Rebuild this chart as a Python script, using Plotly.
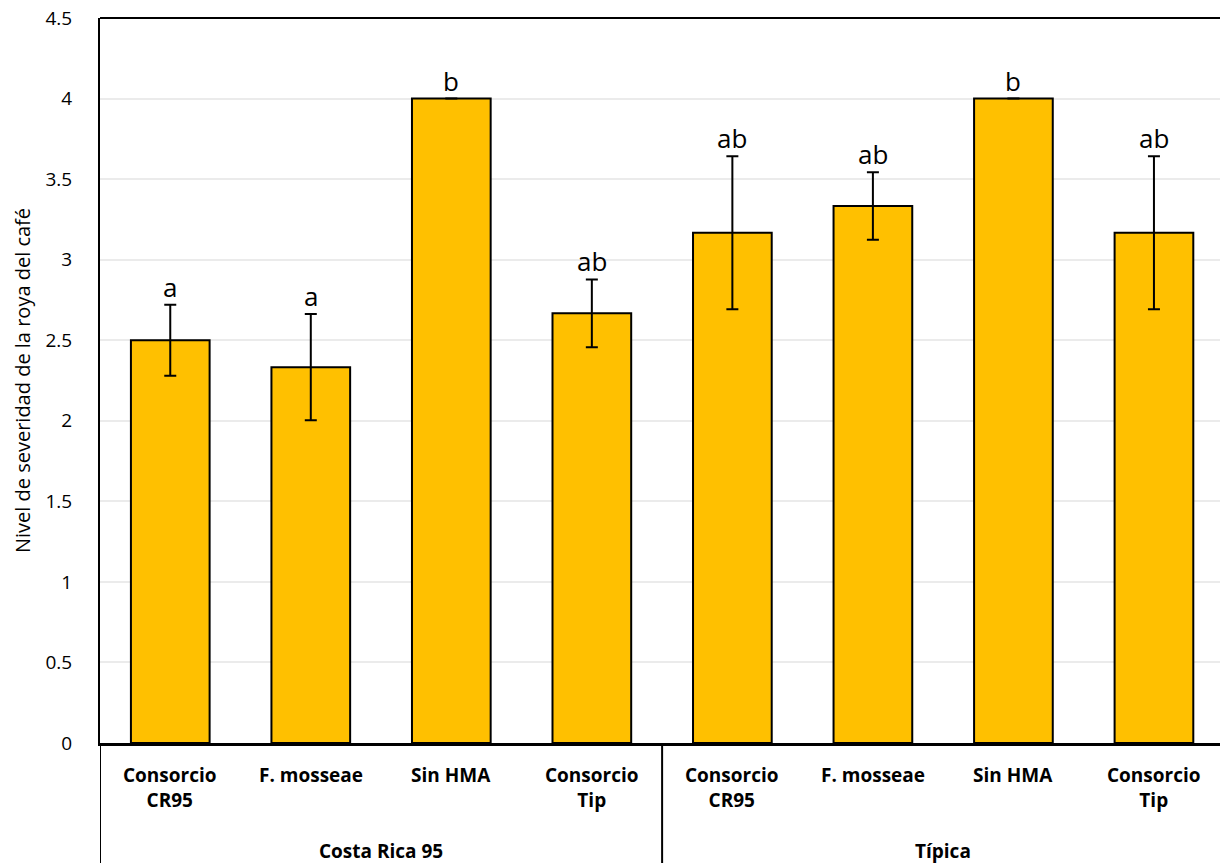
import plotly.graph_objects as go

treatments = ["Consorcio<br>CR95", "F. mosseae", "Sin HMA", "Consorcio<br>Tip",
              "Consorcio<br>CR95", "F. mosseae", "Sin HMA", "Consorcio<br>Tip"]
groups = ["Costa Rica 95", "Típica"]
group_sizes = [4, 4]
means = [2.5, 2.333, 4.0, 2.667, 3.167, 3.333, 4.0, 3.167]
errors = [0.22, 0.33, 0.0, 0.21, 0.475, 0.21, 0.0, 0.475]
letters = ["a", "a", "b", "ab", "ab", "ab", "b", "ab"]

FONT = "Open Sans"
xs = list(range(len(means)))

fig = go.Figure()
fig.add_trace(go.Bar(
    x=xs, y=means, width=0.56,
    marker=dict(color="#FFC000", line=dict(color="black", width=2)),
    error_y=dict(type="data", array=errors, visible=True, color="black", thickness=2, width=6),
    showlegend=False,
))

annotations = []
for i, (m, e, l) in enumerate(zip(means, errors, letters)):
    annotations.append(dict(x=i, y=m + e, xref="x", yref="y", text=l, showarrow=False,
                            yanchor="bottom", yshift=-2, font=dict(size=26, color="black", family=FONT)))
for i, t in enumerate(treatments):
    annotations.append(dict(x=i, y=0, xref="x", yref="paper", text="<b>" + t + "</b>", showarrow=False,
                            yanchor="top", yshift=-17, font=dict(size=19, color="black", family=FONT)))
start = 0
shapes = []
for g, n in zip(groups, group_sizes):
    center = start + (n - 1) / 2
    annotations.append(dict(x=center, y=0, xref="x", yref="paper", text="<b>" + g + "</b>",
                            showarrow=False, yanchor="top", yshift=-93,
                            font=dict(size=19, color="black", family=FONT)))
    start += n
for b in [-0.5, 3.5, 7.5]:
    shapes.append(dict(type="line", xref="x", yref="paper", x0=b, x1=b, y0=0, y1=-0.2,
                       line=dict(color="black", width=2)))

fig.update_layout(
    width=1220, height=863,
    margin=dict(l=100, r=0, t=18, b=120),
    plot_bgcolor="white", paper_bgcolor="white",
    font=dict(family=FONT, size=18, color="black"),
    xaxis=dict(range=[-0.5, 7.47], showticklabels=False, showgrid=False, ticks="",
               showline=True, linecolor="black", linewidth=3, mirror=False, zeroline=False),
    yaxis=dict(range=[0, 4.5], dtick=0.5, showgrid=True, gridcolor="#ebebeb", gridwidth=1.5,
               showline=True, linecolor="black", linewidth=2, zeroline=False,
               ticks="", ticklabelstandoff=22, tickfont=dict(size=19, family=FONT),
               title=dict(text="Nivel de severidad de la roya del café", standoff=9,
                          font=dict(size=20, family=FONT)), automargin=False),
    annotations=annotations,
    shapes=shapes + [dict(type="line", xref="paper", yref="paper", x0=0, x1=1, y0=1, y1=1,
                          line=dict(color="black", width=2))],
)

fig.write_html("out.html", config={"displayModeBar": False},
               post_script="document.body.style.margin='0';")
